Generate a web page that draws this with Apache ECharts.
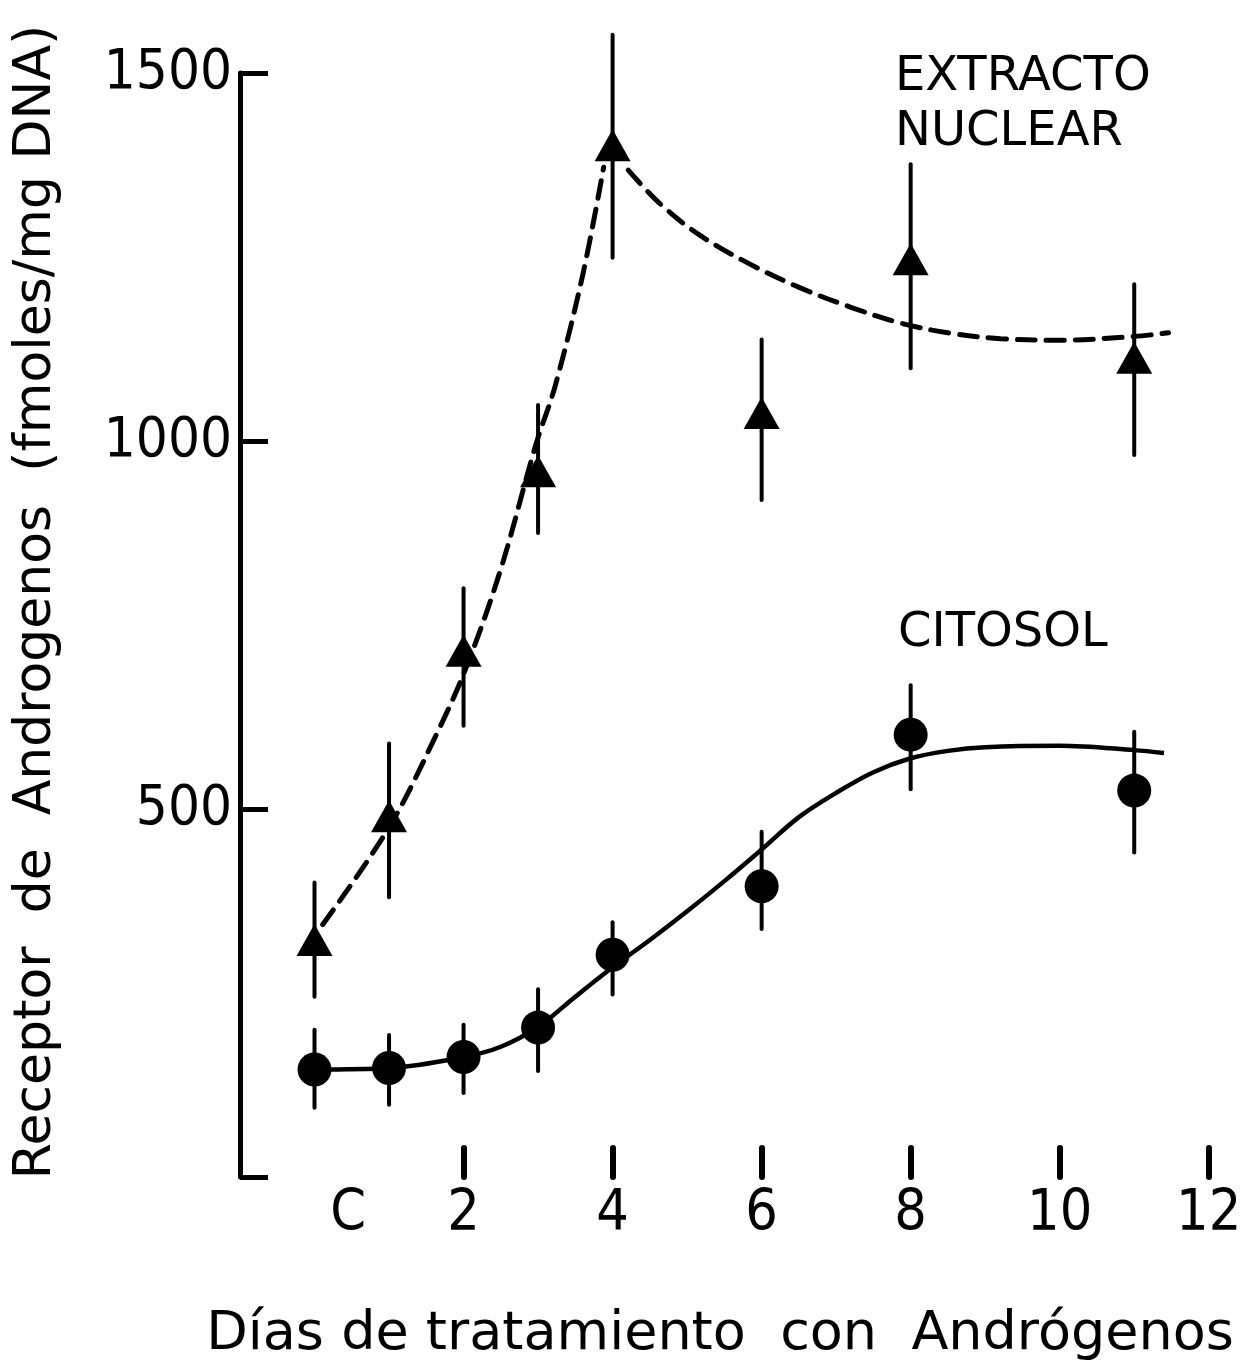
<!DOCTYPE html>
<html><head><meta charset="utf-8">
<script src="https://cdn.jsdelivr.net/npm/echarts@6/dist/echarts.min.js"></script>
<style>html,body{margin:0;padding:0;background:#fff}#c{width:1253px;height:1370px}</style>
</head><body><div id="c"></div>
<script>
// ---- data ----
const days = [0, 1, 2, 3, 4, 6, 8, 11];
const xTickValues = [2, 4, 6, 8, 10, 12];
const xLabelValues = [0.45, 2, 4, 6, 8, 10, 12];
const xLabelTexts = ['C', '2', '4', '6', '8', '10', '12'];
const yTickValues = [0, 500, 1000, 1500];

const nuclearMean = [322, 490, 715, 959, 1402, 1038, 1247, 1113];
const nuclearLow  = [245, 380, 613, 875, 1249, 920, 1099, 981];
const nuclearHigh = [400, 589, 800, 1049, 1552, 1138, 1376, 1213];

const citosolMean = [146, 148, 163, 203, 302, 395, 601, 525];
const citosolLow  = [94, 98, 114, 144, 248, 337, 527, 441];
const citosolHigh = [200, 193, 207, 255, 346, 469, 668, 605];

const nuclearCurveRise = [[0.11, 343], [1.0, 475], [1.62, 598], [2.03, 691], [2.5, 826], [2.97, 995], [3.23, 1075], [3.6, 1226], [3.88, 1372]];
const nuclearCurveFall = [[4.21, 1368], [4.64, 1322], [5.18, 1279], [5.85, 1240], [6.52, 1208], [7.19, 1182], [7.87, 1160], [8.5, 1147], [9.21, 1139], [10, 1137], [11, 1142], [11.46, 1147]];
const citosolCurve = [[0, 146], [1, 148], [2, 163], [2.5, 177], [3, 204], [3.5, 245], [4, 285], [4.5, 322], [5, 361], [5.5, 402], [6, 445], [6.5, 489], [7, 522], [7.5, 550], [8, 569], [8.5, 579], [9, 584], [10, 586], [11, 580], [11.4, 576]];

const yTitle = 'Receptor  de  Androgenos  (fmoles/mg DNA)';
const xTitle = 'Días de tratamiento  con  Andrógenos';
const labelNuclear = ['EXTRACTO', 'NUCLEAR'];
const labelCitosol = 'CITOSOL';

// ---- chart ----
const TICKFONT = '"DejaVu Sans Condensed", "Liberation Sans Narrow", "DejaVu Sans", sans-serif';
const TEXTFONT = '"DejaVu Sans", sans-serif';

function errorBars(low, high) {
  return {
    type: 'custom',
    z: 1,
    renderItem: function (params, api) {
      const x = api.value(0);
      const p1 = api.coord([x, api.value(1)]);
      const p2 = api.coord([x, api.value(2)]);
      return {
        type: 'line',
        shape: { x1: p1[0], y1: p1[1], x2: p2[0], y2: p2[1] },
        style: { stroke: '#000', lineWidth: 4, lineCap: 'round' }
      };
    },
    data: days.map((d, i) => [d, low[i], high[i]])
  };
}

const chart = echarts.init(document.getElementById('c'), null, { renderer: 'canvas' });
chart.setOption({
  animation: false,
  backgroundColor: '#fff',
  grid: { left: 240, top: 73, bottom: 1370 - 1177, right: 1253 - 1246, containLabel: false },
  xAxis: {
    type: 'value', min: -1, max: 12.5,
    axisLine: { show: false, onZero: false },
    splitLine: { show: false },
    axisTick: { show: true, inside: true, length: 29, customValues: xTickValues,
      lineStyle: { color: '#000', width: 6, cap: 'round' } },
    axisLabel: { show: true, customValues: xLabelValues, margin: 10,
      formatter: v => xLabelTexts[xLabelValues.indexOf(v)],
      color: '#000', fontSize: 57, fontFamily: TICKFONT }
  },
  yAxis: {
    type: 'value', min: 0, max: 1500, interval: 500,
    axisLine: { show: true, onZero: false, lineStyle: { color: '#000', width: 5 } },
    splitLine: { show: false },
    axisTick: { show: true, inside: true, length: 28, customValues: yTickValues,
      lineStyle: { color: '#000', width: 5 } },
    axisLabel: { show: true, margin: 8, color: '#000', fontSize: 56, fontFamily: TICKFONT,
      formatter: v => (v === 0 ? '' : String(v)) }
  },
  series: [
    errorBars(nuclearLow, nuclearHigh),
    errorBars(citosolLow, citosolHigh),
    { type: 'line', data: nuclearCurveRise, smooth: 0.35, showSymbol: false, z: 2,
      lineStyle: { color: '#000', width: 5, type: [18, 11], cap: 'round' } },
    { type: 'line', data: nuclearCurveFall, smooth: 0.35, showSymbol: false, z: 2,
      lineStyle: { color: '#000', width: 5, type: [18, 11], cap: 'round' } },
    { type: 'line', data: citosolCurve, smooth: 0.35, showSymbol: false, z: 2,
      lineStyle: { color: '#000', width: 4.5 } },
    { type: 'scatter', data: days.map((d, i) => [d, nuclearMean[i]]), symbol: 'triangle',
      symbolSize: [36, 32], itemStyle: { color: '#000', opacity: 1 }, z: 3 },
    { type: 'scatter', data: days.map((d, i) => [d, citosolMean[i]]), symbol: 'circle',
      symbolSize: 34, itemStyle: { color: '#000', opacity: 1 }, z: 3 }
  ],
  graphic: [
    { type: 'text', x: 36, y: 602, rotation: Math.PI / 2,
      style: { text: yTitle, fill: '#000', fontSize: 52, fontFamily: TEXTFONT, align: 'center', verticalAlign: 'middle' } },
    { type: 'text', x: 720, y: 1335,
      style: { text: xTitle, fill: '#000', fontSize: 54, fontFamily: TEXTFONT, align: 'center', verticalAlign: 'middle' } },
    { type: 'text', x: 895, y: 78,
      style: { text: labelNuclear[0], fill: '#000', fontSize: 48, fontFamily: TEXTFONT, align: 'left', verticalAlign: 'middle' } },
    { type: 'text', x: 895, y: 133,
      style: { text: labelNuclear[1], fill: '#000', fontSize: 48, fontFamily: TEXTFONT, align: 'left', verticalAlign: 'middle' } },
    { type: 'text', x: 898, y: 634,
      style: { text: labelCitosol, fill: '#000', fontSize: 48, fontFamily: TEXTFONT, align: 'left', verticalAlign: 'middle' } }
  ]
});
</script>
</body></html>
